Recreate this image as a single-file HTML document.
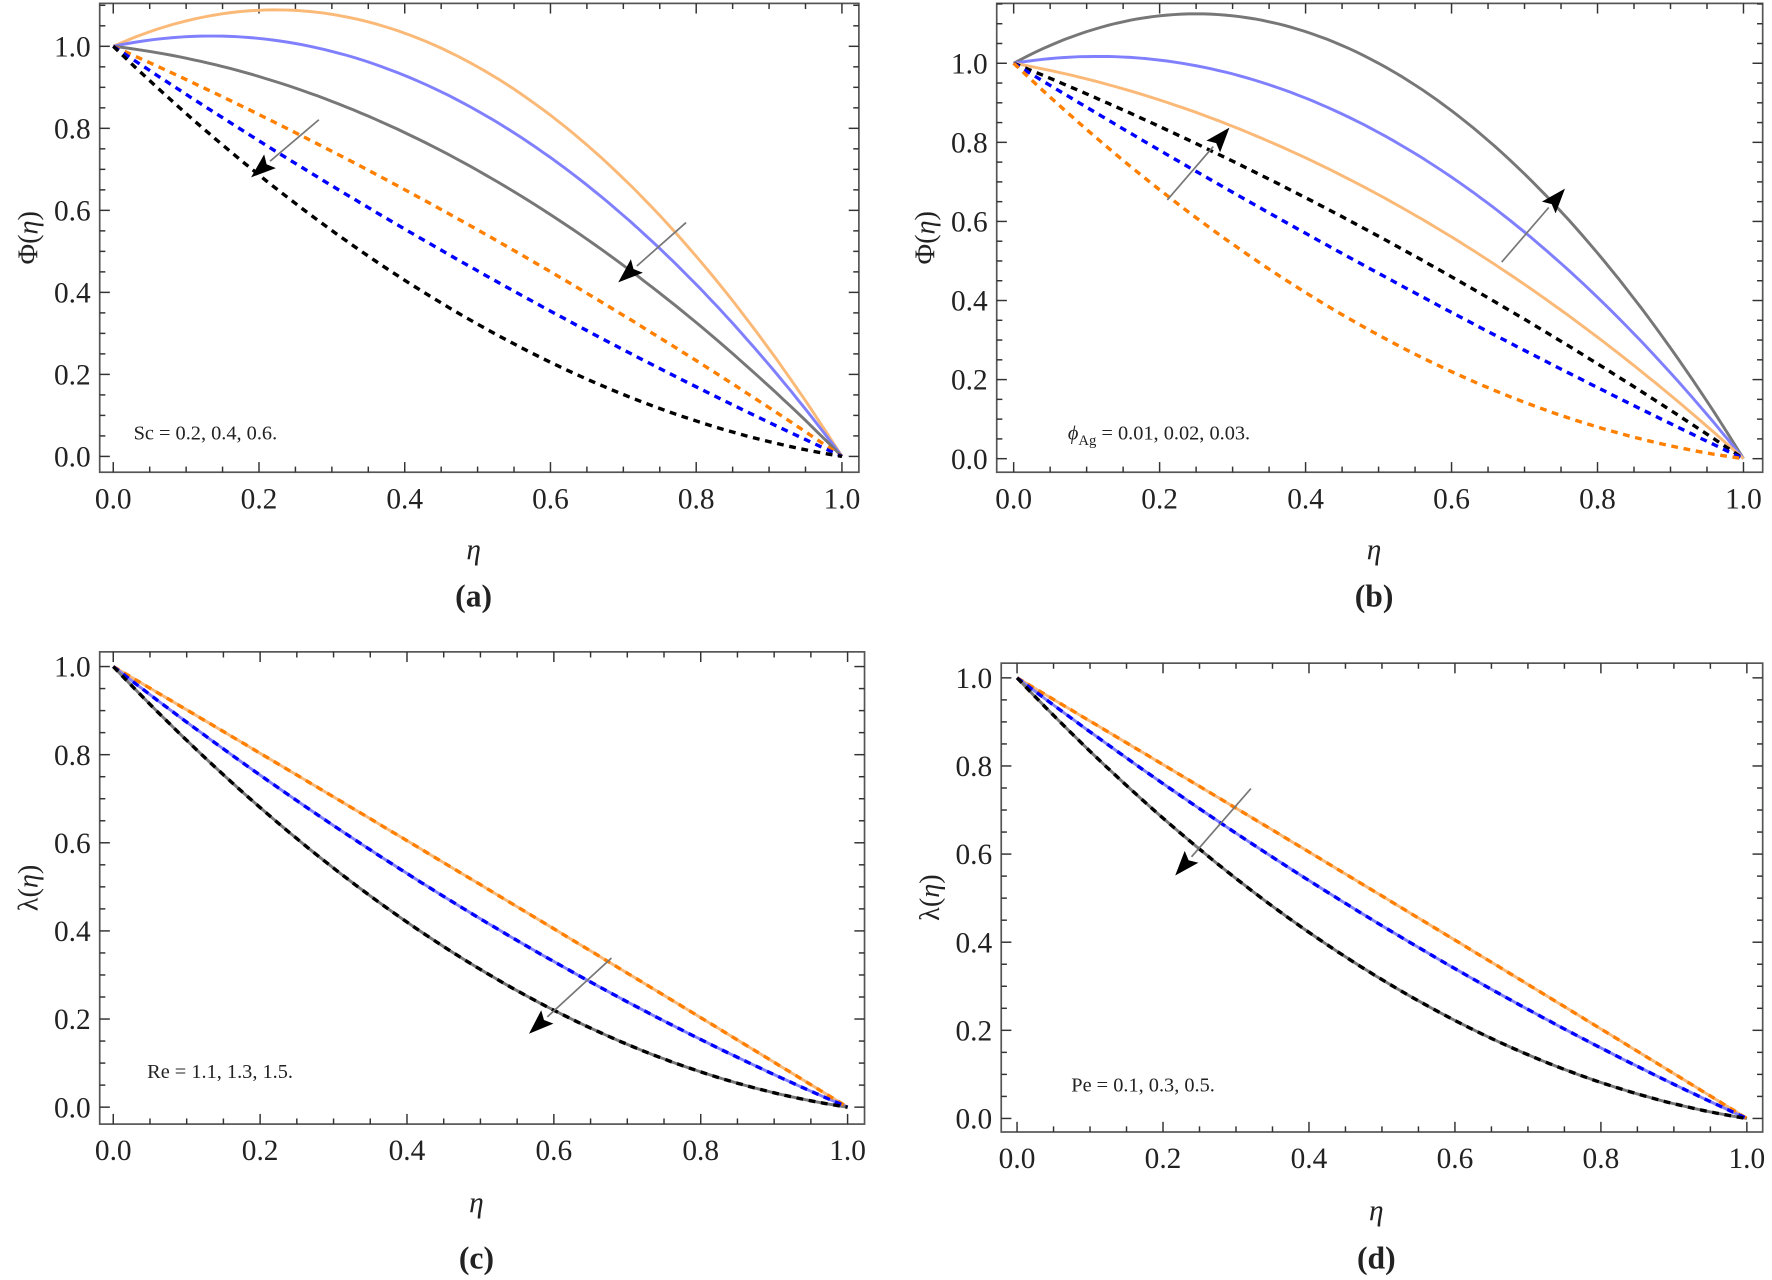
<!DOCTYPE html>
<html><head><meta charset="utf-8"><style>
html,body{margin:0;padding:0;background:#fff}
svg{display:block}
text{font-family:"Liberation Serif",serif;fill:#222}
</style></head><body>
<svg id="s" width="1772" height="1280" viewBox="0 0 1568 1133" xmlns="http://www.w3.org/2000/svg"></svg>
<script>
const S=document.getElementById('s');let h='';
function P(o){
 const {L,R,T,B,x0,x1,y0,y1,ymax,ylab,xlab,lab,labY,etaY,curves,arrows,ann}=o;
 const X=v=>x0+(x1-x0)*v, Y=v=>y0-(y0-y1)*v;
 h+=`<rect x="${L}" y="${T}" width="${R-L}" height="${B-T}" fill="none" stroke="#555" stroke-width="1.5"/>`;
 for(let i=0;i<=20;i++){const v=i/20,xx=X(v),len=i%4==0?9:5;
  h+=`<line x1="${xx}" y1="${B}" x2="${xx}" y2="${B-len}" stroke="#333" stroke-width="1.3"/><line x1="${xx}" y1="${T}" x2="${xx}" y2="${T+len}" stroke="#333" stroke-width="1.3"/>`;
  if(i%4==0)h+=`<text x="${xx}" y="${B+32}" font-size="26" text-anchor="middle">${v.toFixed(1)}</text>`;}
 for(let i=0;i<=Math.floor(ymax*20+1e-6);i++){const v=i/20,yy=Y(v),len=i%4==0?9:5;if(yy<T)continue;
  h+=`<line x1="${L}" y1="${yy}" x2="${L+len}" y2="${yy}" stroke="#333" stroke-width="1.3"/><line x1="${R}" y1="${yy}" x2="${R-len}" y2="${yy}" stroke="#333" stroke-width="1.3"/>`;
  if(i%4==0)h+=`<text x="${L-8}" y="${yy+9}" font-size="26" text-anchor="end">${v.toFixed(1)}</text>`;}
 h+=`<text transform="translate(${L-55},${(T+B)/2}) rotate(-90)" font-size="25" text-anchor="middle">${ylab}(<tspan font-style="italic">η</tspan>)</text>`;
 h+=`<text x="${(L+R)/2-5}" y="${etaY}" font-size="26" font-style="italic" text-anchor="middle">η</text>`;
 h+=`<text x="${(L+R)/2-5}" y="${labY}" font-size="28" font-weight="bold" text-anchor="middle">${lab}</text>`;
 for(const c of curves){let d='';for(let i=0;i<=100;i++){const x=i/100;const v=(1-x)*(1+c.b*x);d+=(i?'L':'M')+X(x).toFixed(1)+','+Y(v).toFixed(1);}
  h+=`<path d="${d}" fill="none" stroke="${c.c}" stroke-width="${c.d?3:2.6}" ${c.d?'stroke-dasharray="6 5"':''} ${c.o?'stroke-opacity="'+c.o+'"':''}/>`;}
 for(const a of arrows){const [xa,ya,xb,yb]=a;const ang=Math.atan2(yb-ya,xb-xa);const l=22,w=8;
  const bx=xb-l*Math.cos(ang),by=yb-l*Math.sin(ang);
  h+=`<line x1="${xa}" y1="${ya}" x2="${bx}" y2="${by}" stroke="#777" stroke-width="1.5"/>`;
  h+=`<polygon points="${xb},${yb} ${bx-w*Math.sin(ang)},${by+w*Math.cos(ang)} ${bx+4*Math.cos(ang)},${by+4*Math.sin(ang)} ${bx+w*Math.sin(ang)},${by-w*Math.cos(ang)}" fill="#000"/>`;}
 h+=ann;
}
const OL='#fbb978',BL='#8080ff',GR='#777',OD='#ff7f00',BD='#0000ff',KD='#000';
P({L:88,R:760,T:3,B:418,x0:100,x1:745,y0:404,y1:41,ymax:1.1,ylab:'Φ',lab:'(a)',labY:537,etaY:495,
 curves:[{b:1.8,c:OL},{b:1.37,c:BL},{b:0.79,c:GR},{b:0.21,c:OD,d:1},{b:-0.19,c:BD,d:1},{b:-0.71,c:KD,d:1}],
 arrows:[[282,106,222,157],[607,197,547,250]],
 ann:`<text x="118" y="389" font-size="18">Sc = 0.2, 0.4, 0.6.</text>`});
P({L:882,R:1560,T:3,B:418,x0:897,x1:1543,y0:406,y1:56,ymax:1.15,ylab:'Φ',lab:'(b)',labY:537,etaY:495,
 curves:[{b:2.0,c:GR},{b:1.3,c:BL},{b:0.67,c:OL},{b:0.25,c:KD,d:1},{b:-0.125,c:BD,d:1},{b:-0.75,c:OD,d:1}],
 arrows:[[1033,177,1088,113],[1329,232,1385,167]],
 ann:`<text x="945" y="389" font-size="18"><tspan font-style="italic">ϕ</tspan><tspan font-size="13" dy="5">Ag</tspan><tspan dy="-5"> = 0.01, 0.02, 0.03.</tspan></text>`});
P({L:88,R:765,T:577,B:995,x0:100,x1:750,y0:980,y1:590,ymax:1.0,ylab:'λ',lab:'(c)',labY:1123,etaY:1073,
 curves:[{b:0.02,c:OL},{b:-0.29,c:BL},{b:-0.75,c:GR},{b:0.02,c:OD,d:1},{b:-0.29,c:BD,d:1},{b:-0.75,c:KD,d:1}],
 arrows:[[541,848,468,915]],
 ann:`<text x="130" y="954" font-size="18">Re = 1.1, 1.3, 1.5.</text>`});
P({L:886,R:1560,T:587,B:1002,x0:900,x1:1546,y0:990,y1:600,ymax:1.0,ylab:'λ',lab:'(d)',labY:1123,etaY:1080,
 curves:[{b:0.02,c:OL},{b:-0.25,c:BL},{b:-0.74,c:GR},{b:0.02,c:OD,d:1},{b:-0.25,c:BD,d:1},{b:-0.74,c:KD,d:1}],
 arrows:[[1107,698,1040,775]],
 ann:`<text x="948" y="966" font-size="18">Pe = 0.1, 0.3, 0.5.</text>`});
S.innerHTML=h;
</script>
</body></html>
